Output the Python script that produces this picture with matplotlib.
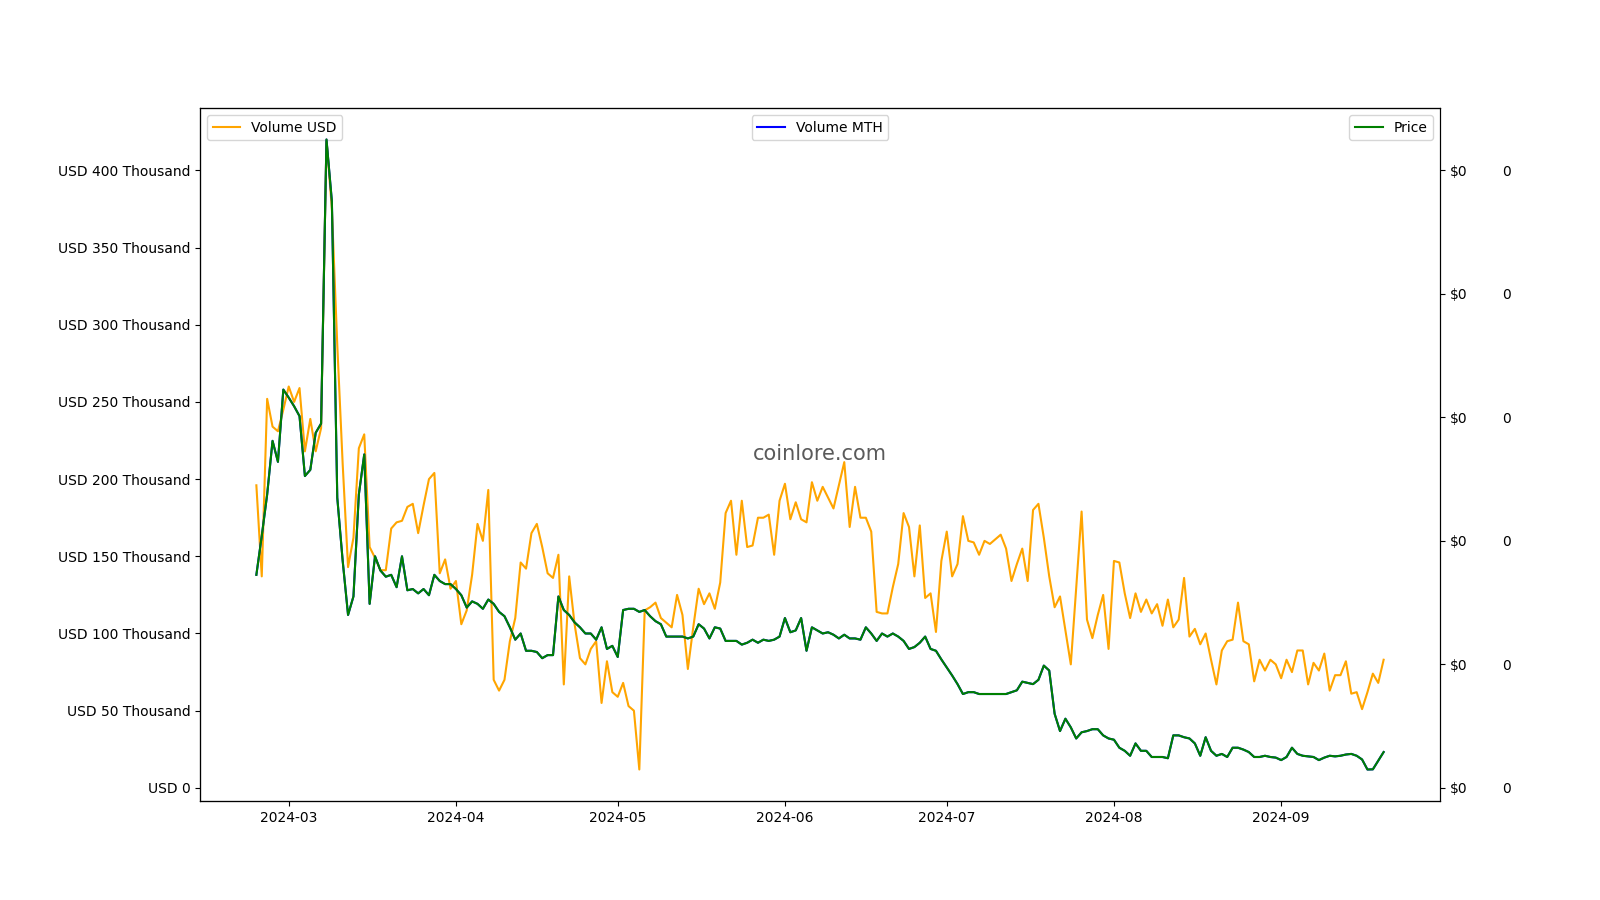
"""MTH volume / price chart (coinlore style)."""

import matplotlib

matplotlib.use("Agg")
import matplotlib.dates as mdates
import matplotlib.pyplot as plt
import numpy as np
import pandas as pd
from matplotlib.ticker import FuncFormatter

# daily points, 2024-02-24 .. 2024-09-20
dates = pd.date_range("2024-02-24", "2024-09-20", freq="D")

# traded volume in thousands of USD
volume_usd_k = [
    196, 137, 252, 234, 231, 245, 260, 250, 259, 218, 239, 218, 233, 420, 375, 287,
    210, 143, 162, 220, 229, 156, 149, 141, 141, 168, 172, 173, 182, 184, 165, 183,
    200, 204, 139, 148, 129, 134, 106, 115, 138, 171, 160, 193, 70, 63, 70, 95,
    110, 146, 142, 165, 171, 156, 139, 136, 151, 67, 137, 106, 84, 80, 90, 95,
    55, 82, 62, 59, 68, 53, 50, 11.9, 115, 117, 120, 110, 107, 104, 125, 112,
    77, 104, 129, 119, 126, 116, 133, 178, 186, 151, 186, 156, 157, 175, 175, 177,
    151, 186, 197, 174, 185, 174, 172, 198, 186, 195, 188, 181, 196, 211, 169, 195,
    175, 175, 166, 114, 113, 113, 130, 145, 178, 169, 137, 170, 123, 126, 101, 147,
    166, 137, 145, 176, 160, 159, 151, 160, 158, 161, 164, 155, 134, 145, 155, 134,
    180, 184, 162, 137, 117, 124, 102, 80, 130, 179, 109, 97, 112, 125, 90, 147,
    146, 126, 110, 126, 114, 122, 113, 119, 105, 122, 104, 109, 136, 98, 103, 93,
    100, 83, 67, 89, 95, 96, 120, 95, 93, 69, 83, 76, 83, 80, 71, 83,
    75, 89, 89, 67, 81, 76, 87, 63, 73, 73, 82, 61, 62, 51, 62, 74,
    68, 83,
]

# price in micro-USD (1e-6 $)
price_micro_usd = [
    345, 408, 475, 562, 528, 645, 632, 618, 602, 505, 515, 575, 590, 1050, 950, 470,
    368, 280, 310, 475, 540, 298, 375, 352, 342, 345, 325, 375, 320, 322, 315, 322,
    312, 345, 335, 330, 330, 322, 312, 292, 302, 298, 290, 305, 298, 285, 278, 260,
    240, 250, 222, 222, 220, 210, 215, 215, 310, 288, 280, 268, 260, 250, 250, 240,
    260, 225, 230, 212, 288, 290, 290, 285, 288, 278, 270, 265, 245, 245, 245, 245,
    242, 245, 265, 258, 242, 260, 258, 238, 238, 238, 232, 235, 240, 235, 240, 238,
    240, 245, 275, 252, 255, 275, 222, 260, 255, 250, 252, 248, 242, 248, 242, 242,
    240, 260, 250, 238, 250, 245, 250, 245, 238, 225, 228, 235, 245, 225, 222, 208,
    195, 182, 168, 152, 155, 155, 152, 152, 152, 152, 152, 152, 155, 158, 172, 170,
    168, 175, 198, 190, 120, 92, 112, 98, 80, 90, 92, 95, 95, 85, 80, 78,
    65, 60, 52, 72, 60, 60, 50, 50, 50, 48, 85, 85, 82, 80, 72, 52,
    82, 60, 52, 55, 50, 65, 65, 62, 58, 50, 50, 52, 50, 49, 45, 50,
    65, 55, 52, 51, 50, 45, 49, 52, 51, 52, 54, 55, 52, 46, 29.75, 30,
    44, 58,
]

# the blue MTH line sits exactly under the green price line in the picture
volume_mth = price_micro_usd

volume_usd = np.array(volume_usd_k) * 1000
price_usd = np.array(price_micro_usd) * 1e-6
volume_mth_arr = np.array(volume_mth) * 1e-6


def usd_thousand(x, pos):
    if abs(x) < 1e-9:
        return "USD 0"
    return f"USD {x / 1000:,.0f} Thousand"


fig, ax = plt.subplots(figsize=(16, 9), dpi=100)

ax.plot(dates, volume_usd, color="orange", linewidth=1.5, label="Volume USD")
ax.yaxis.set_major_formatter(FuncFormatter(usd_thousand))
ax.xaxis.set_major_locator(mdates.MonthLocator())
ax.xaxis.set_major_formatter(mdates.DateFormatter("%Y-%m"))
ax.legend(loc="upper left")

ax_mth = ax.twinx()
ax_mth.plot(dates, volume_mth_arr, color="blue", linewidth=1.5, label="Volume MTH")
ax_mth.spines["right"].set_position(("outward", 41))
ax_mth.spines["right"].set_visible(False)
ax_mth.tick_params(axis="y", length=0)
ax_mth.yaxis.set_major_formatter(FuncFormatter(lambda x, pos: f"{x:,.0f}"))
ax_mth.legend(loc="upper center")

ax_price = ax.twinx()
ax_price.plot(dates, price_usd, color="green", linewidth=1.5, label="Price")
ax_price.yaxis.set_major_formatter(FuncFormatter(lambda x, pos: f"${x:,.0f}"))
ax_price.legend(loc="upper right")

ax.text(0.5, 0.5, "coinlore.com", transform=ax.transAxes, fontsize=15,
        color="#5a5a5a", ha="center", va="center", zorder=10)

fig.savefig("out.png", dpi=100)
plt.close(fig)
